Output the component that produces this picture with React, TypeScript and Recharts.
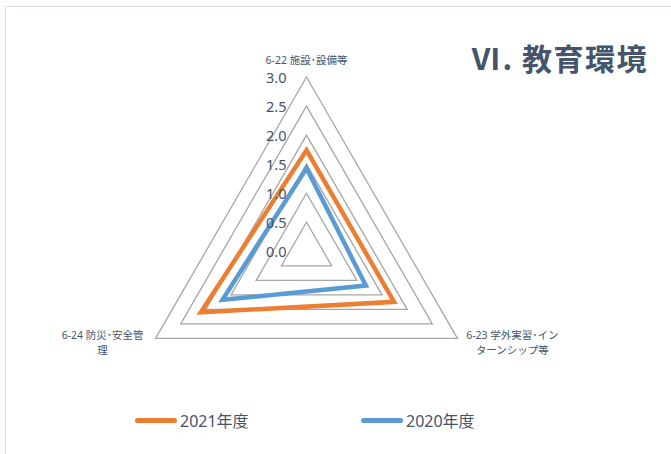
import { RadarChart, Radar, PolarGrid, PolarAngleAxis, PolarRadiusAxis, Legend } from "recharts";

// categories and label line breaks as in the original sheet
const categories = ["6-22 施設･設備等", "6-23 学外実習･インターンシップ等", "6-24 防災･安全管理"];
const labelLines = [["6-22 施設･設備等"], ["6-23 学外実習･イン", "ターンシップ等"], ["6-24 防災･安全管", "理"]];

const seriesNames = ["2021年度", "2020年度"];
const values2021 = [1.74, 1.74, 2.1];
const values2020 = [1.43, 1.18, 1.67];

const radiusDomain = [0, 3];
const radiusTickCount = 7;

const data = categories.map((c, i) => ({ name: c, y2021: values2021[i], y2020: values2020[i] }));

const textColor = "#44546a";
const font = '"Noto Sans", "Noto Sans CJK JP", sans-serif';

// label offsets relative to tick point, by category index
const labelOffsets = [
  { dx: 0, dy: -9 },
  { dx: 48, dy: -7 },
  { dx: -46, dy: -7 },
];

function AngleTick(props: any) {
  const { x, y, payload } = props;
  const idx = categories.indexOf(payload.value);
  const lines = labelLines[idx] || [payload.value];
  const off = labelOffsets[idx] || { dx: 0, dy: 0 };
  return (
    <g>
      {lines.map((l, i) => (
        <text
          key={i}
          x={x + off.dx}
          y={y + off.dy + i * 15}
          textAnchor="middle"
          dominantBaseline="central"
          fontSize={10.5}
          fill={textColor}
          fontFamily={font}
        >
          {l}
        </text>
      ))}
    </g>
  );
}

function RadiusTick(props: any) {
  const { x, y, payload } = props;
  return (
    <text
      x={x - 20}
      y={y}
      textAnchor="end"
      dominantBaseline="central"
      fontSize={14.5}
      fill={textColor}
      fontFamily={font}
    >
      {Number(payload.value).toFixed(1)}
    </text>
  );
}

function LegendContent(props: any) {
  const items = [...(props.payload || [])].sort(
    (a: any, b: any) => seriesNames.indexOf(a.value) - seriesNames.indexOf(b.value)
  );
  return (
    <div style={{ display: "flex", paddingLeft: 135, height: 24, alignItems: "center" }}>
      {items.map((it: any, i: number) => (
        <div key={i} style={{ display: "flex", alignItems: "center", width: 226 }}>
          <div style={{ width: 42, height: 5, borderRadius: 3, background: it.color }} />
          <span style={{ marginLeft: 3, fontSize: 16, color: textColor, fontFamily: font }}>{it.value}</span>
        </div>
      ))}
    </div>
  );
}

export default function App() {
  return (
    <div style={{ position: "absolute", left: 0, top: 0, width: 671, height: 454, overflow: "hidden", background: "#fff" }}>
      <div
        style={{
          position: "absolute",
          left: 5,
          top: 6,
          width: 720,
          height: 520,
          border: "1.5px solid #d9dfe6",
          boxSizing: "border-box",
        }}
      />
      <div
        style={{
          position: "absolute",
          left: 471,
          top: 38,
          fontSize: 30,
          lineHeight: "38px",
          fontWeight: 700,
          letterSpacing: 1.5,
          color: textColor,
          fontFamily: '"Noto Sans CJK JP", sans-serif',
          whiteSpace: "nowrap",
        }}
      >
        Ⅵ. 教育環境
      </div>
      <div style={{ position: "absolute", left: 0, top: 0 }}>
        <RadarChart
          width={671}
          height={454}
          data={data}
          cx={306.5}
          cy={251.3}
          outerRadius={174.3}
          margin={{ top: 0, right: 0, bottom: 0, left: 0 }}
        >
          <PolarGrid gridType="polygon" radialLines={false} stroke="#a6a6a6" strokeWidth={1.3} />
          <PolarAngleAxis dataKey="name" tick={<AngleTick />} axisLine={false} tickLine={false} />
          <PolarRadiusAxis
            angle={90}
            domain={radiusDomain}
            tickCount={radiusTickCount}
            allowDecimals={true}
            tick={<RadiusTick />}
            axisLine={false}
            tickLine={false}
          />
          <Radar
            name={seriesNames[0]}
            dataKey="y2021"
            stroke="#ed7d31"
            strokeWidth={4.5}
            fill="none"
            fillOpacity={0}
            dot={false}
            isAnimationActive={false}
          />
          <Radar
            name={seriesNames[1]}
            dataKey="y2020"
            stroke="#5b9bd5"
            strokeWidth={4.5}
            fill="none"
            fillOpacity={0}
            dot={false}
            isAnimationActive={false}
          />
          <Legend
            verticalAlign="bottom"
            content={<LegendContent />}
            wrapperStyle={{ top: 408, bottom: "auto", left: 0, width: 671 }}
          />
        </RadarChart>
      </div>
    </div>
  );
}
